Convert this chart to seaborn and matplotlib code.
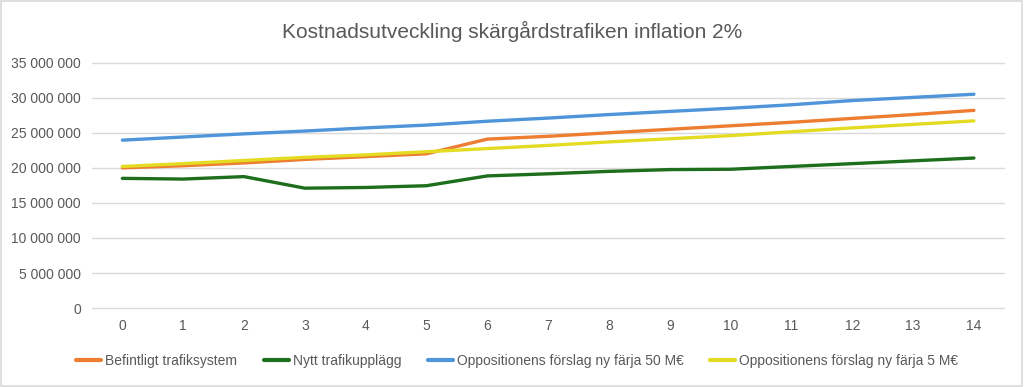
import pandas as pd
import numpy as np
import matplotlib
matplotlib.use("Agg")
import matplotlib.pyplot as plt
from matplotlib.ticker import FuncFormatter
import seaborn as sns

# year index 0..14
years = list(range(15))

befintligt = [20.0, 20.3, 20.7, 21.2, 21.6, 22.0, 24.1, 24.5, 25.0, 25.5,
              26.0, 26.5, 27.05, 27.6, 28.2]
nytt = [18.5, 18.4, 18.75, 17.1, 17.2, 17.45, 18.85, 19.15, 19.5, 19.75,
        19.8, 20.2, 20.6, 21.0, 21.4]
farja_50 = [23.95, 24.4, 24.85, 25.25, 25.7, 26.1, 26.65, 27.1, 27.6, 28.05,
            28.5, 29.0, 29.6, 30.05, 30.5]
farja_5 = [20.2, 20.6, 21.05, 21.5, 21.85, 22.3, 22.75, 23.2, 23.7, 24.15,
           24.6, 25.15, 25.7, 26.2, 26.7]

series_names = ["Befintligt trafiksystem", "Nytt trafikupplägg",
                "Oppositionens förslag ny färja 50 M€",
                "Oppositionens förslag ny färja 5 M€"]
colors = ["#ED7D31", "#1D6E1D", "#4E95D9", "#E3DC22"]

# long form table for seaborn (values in MSEK -> kronor)
df = pd.concat([
    pd.DataFrame({"år": years, "kostnad": np.array(vals) * 1e6, "serie": name})
    for name, vals in zip(series_names, [befintligt, nytt, farja_50, farja_5])
])

sns.set_style("white")
plt.rcParams["font.family"] = ["Liberation Sans Narrow", "Liberation Sans", "DejaVu Sans"]

fig = plt.figure(figsize=(10.24, 3.87), dpi=100)
ax = fig.add_axes([0.0898, 0.204, 0.891, 0.634])

sns.lineplot(data=df, x="år", y="kostnad", hue="serie", hue_order=series_names,
             palette=colors, linewidth=2.4, ax=ax, legend=False)

ax.set_xlim(-0.5, 14.5)
ax.set_ylim(0, 35e6)
ax.set_xticks(years)
ax.set_yticks(np.arange(0, 35e6 + 1, 5e6))
ax.yaxis.set_major_formatter(FuncFormatter(lambda v, p: f"{int(v):,}".replace(",", " ")))
ax.grid(axis="y", color="#D9D9D9", linewidth=1)
for gl in ax.get_ygridlines():
    gl.set_clip_on(False)
ax.set_axisbelow(True)
for s in ax.spines.values():
    s.set_visible(False)
ax.tick_params(axis="both", length=0, labelsize=10, colors="#595959", pad=8)
ax.set_xlabel("")
ax.set_ylabel("")

fig.suptitle("Kostnadsutveckling skärgårdstrafiken inflation 2%", y=0.945,
             fontsize=15, color="#595959", family=["Liberation Sans", "DejaVu Sans"])

handles = [plt.Line2D([], [], color=c, linewidth=3) for c in colors]
fig.legend(handles, series_names, loc="center", bbox_to_anchor=(0.505, 0.067),
           ncol=4, frameon=False, fontsize=10, handlelength=1.8,
           handletextpad=0.3, columnspacing=1.9, labelcolor="#595959")

# light grey chart border like the original
fig.patches.append(plt.Rectangle((0.001, 0.002), 0.997, 0.995, transform=fig.transFigure,
                                 fill=False, edgecolor="#D9D9D9", linewidth=1.2))

fig.savefig("out.png", dpi=100, facecolor="white")
